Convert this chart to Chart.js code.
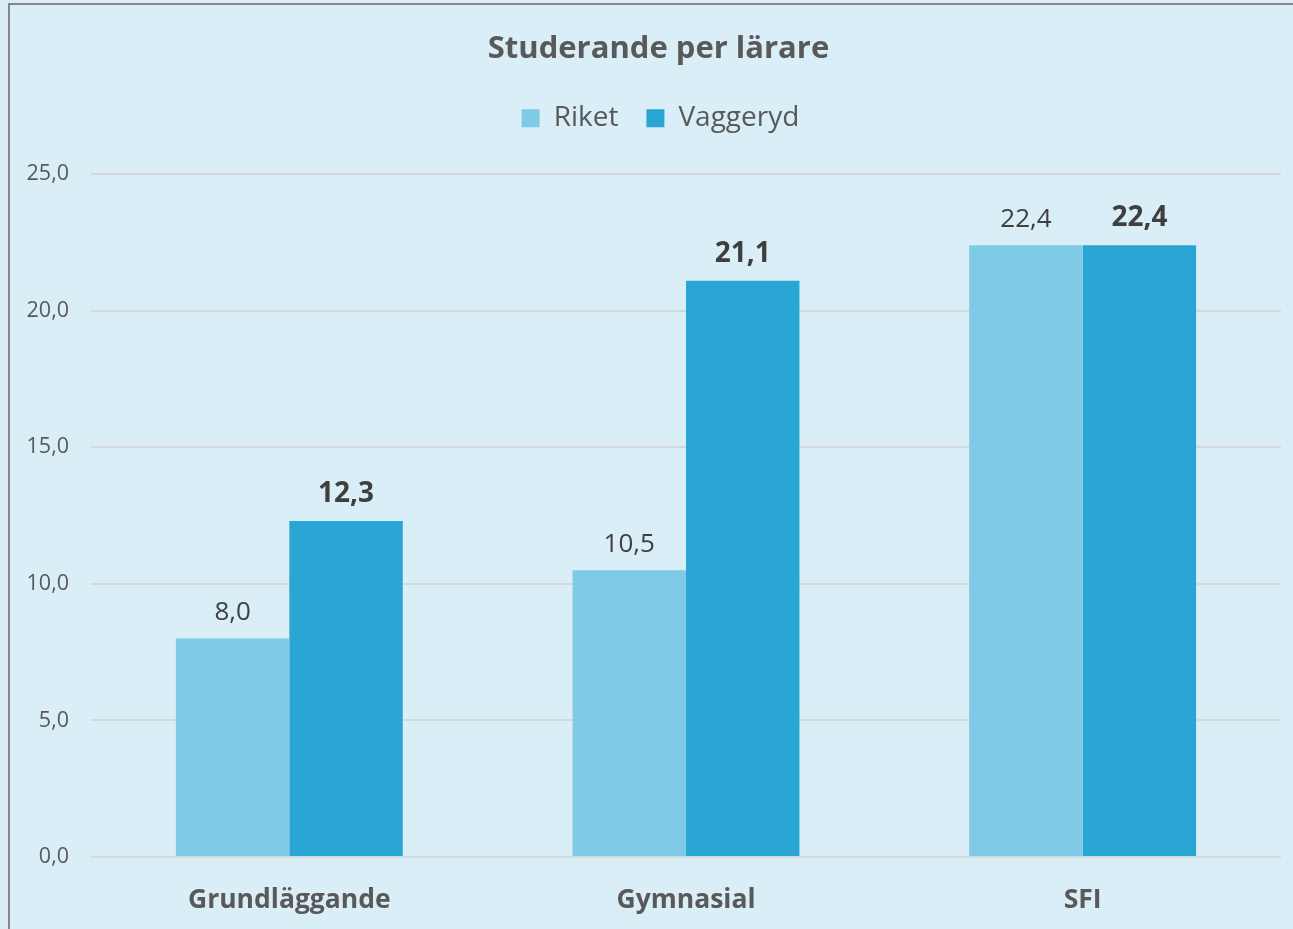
<!DOCTYPE html>
<html>
<head>
<meta charset="utf-8">
<script src="https://cdn.jsdelivr.net/npm/chart.js@4.4.0/dist/chart.umd.min.js"></script>
<style>
  html, body { margin: 0; padding: 0; background: #d9eef6; }
  #wrap { position: absolute; left: 0; top: 0; width: 1293px; height: 929px; }
  #frame { position: absolute; left: 8px; top: 3px; width: 1300px; height: 940px;
           border-left: 2px solid #868686; border-top: 2px solid #868686; pointer-events: none; }
</style>
</head>
<body>
<div id="wrap"><canvas id="chart" width="1293" height="929"></canvas></div>
<div id="frame"></div>
<script>
const categories = ["Grundläggande", "Gymnasial", "SFI"];
const riket = [8.0, 10.5, 22.4];
const vaggeryd = [12.3, 21.1, 22.4];
const yTicks = [0, 5, 10, 15, 20, 25];

const fmt = (v) => v.toFixed(1).replace(".", ",");

const valueLabels = {
  id: "valueLabels",
  afterDatasetsDraw(chart) {
    const ctx = chart.ctx;
    ctx.save();
    ctx.textAlign = "center";
    ctx.textBaseline = "bottom";
    chart.data.datasets.forEach((ds, i) => {
      const meta = chart.getDatasetMeta(i);
      ctx.font = (i === 1 ? "bold 28px" : "26px") + " 'Open Sans', sans-serif";
      ctx.fillStyle = i === 1 ? "#3f3f3f" : "#404040";
      meta.data.forEach((bar, j) => {
        ctx.fillText(fmt(ds.data[j]), bar.x, bar.y - 13);
      });
    });
    ctx.restore();
  }
};

// extra room below the legend, and title/legend centred a bit right of the canvas middle
const headerTweak = {
  id: "headerTweak",
  beforeInit(chart) {
    const fit = chart.legend.fit;
    chart.legend.fit = function () {
      fit.call(this);
      this.height += 32;
    };
  },
  afterLayout(chart) {
    chart.titleBlock.left += 36;
    chart.legend.left += 40;
  }
};

new Chart(document.getElementById("chart"), {
  type: "bar",
  data: {
    labels: categories,
    datasets: [
      { label: "Riket", data: riket, backgroundColor: "#7fcae6" },
      { label: "Vaggeryd", data: vaggeryd, backgroundColor: "#29a6d4" }
    ]
  },
  options: {
    responsive: false,
    animation: false,
    layout: { padding: { left: 0, right: 12, top: 31, bottom: 0 } },
    datasets: { bar: { categoryPercentage: 0.572, barPercentage: 1.0 } },
    plugins: {
      title: {
        display: true,
        text: "Studerande per lärare",
        color: "#595959",
        font: { family: "'Open Sans', sans-serif", size: 31, weight: "bold" },
        padding: { top: 0, bottom: 8 }
      },
      legend: {
        labels: {
          color: "#595959",
          font: { family: "'Open Sans', sans-serif", size: 28 },
          boxWidth: 18, boxHeight: 18, padding: 28
        }
      },
      tooltip: { enabled: false }
    },
    scales: {
      x: {
        grid: { display: false },
        border: { display: false },
        ticks: {
          color: "#595959",
          font: { family: "'Open Sans', sans-serif", size: 26.5, weight: "bold" },
          padding: 20
        },
        afterFit(scale) { scale.height = 72; }
      },
      y: {
        min: 0, max: 25,
        afterBuildTicks(scale) { scale.ticks = yTicks.map(v => ({ value: v })); },
        grid: { color: "#d6d9dc", lineWidth: 2, drawTicks: false },
        border: { display: false },
        ticks: {
          color: "#595959",
          font: { family: "'Open Sans', sans-serif", size: 21.5 },
          padding: 22,
          callback: (v) => fmt(v)
        },
        afterFit(scale) { scale.width = 91; }
      }
    }
  },
  plugins: [valueLabels, headerTweak]
});
</script>
</body>
</html>
